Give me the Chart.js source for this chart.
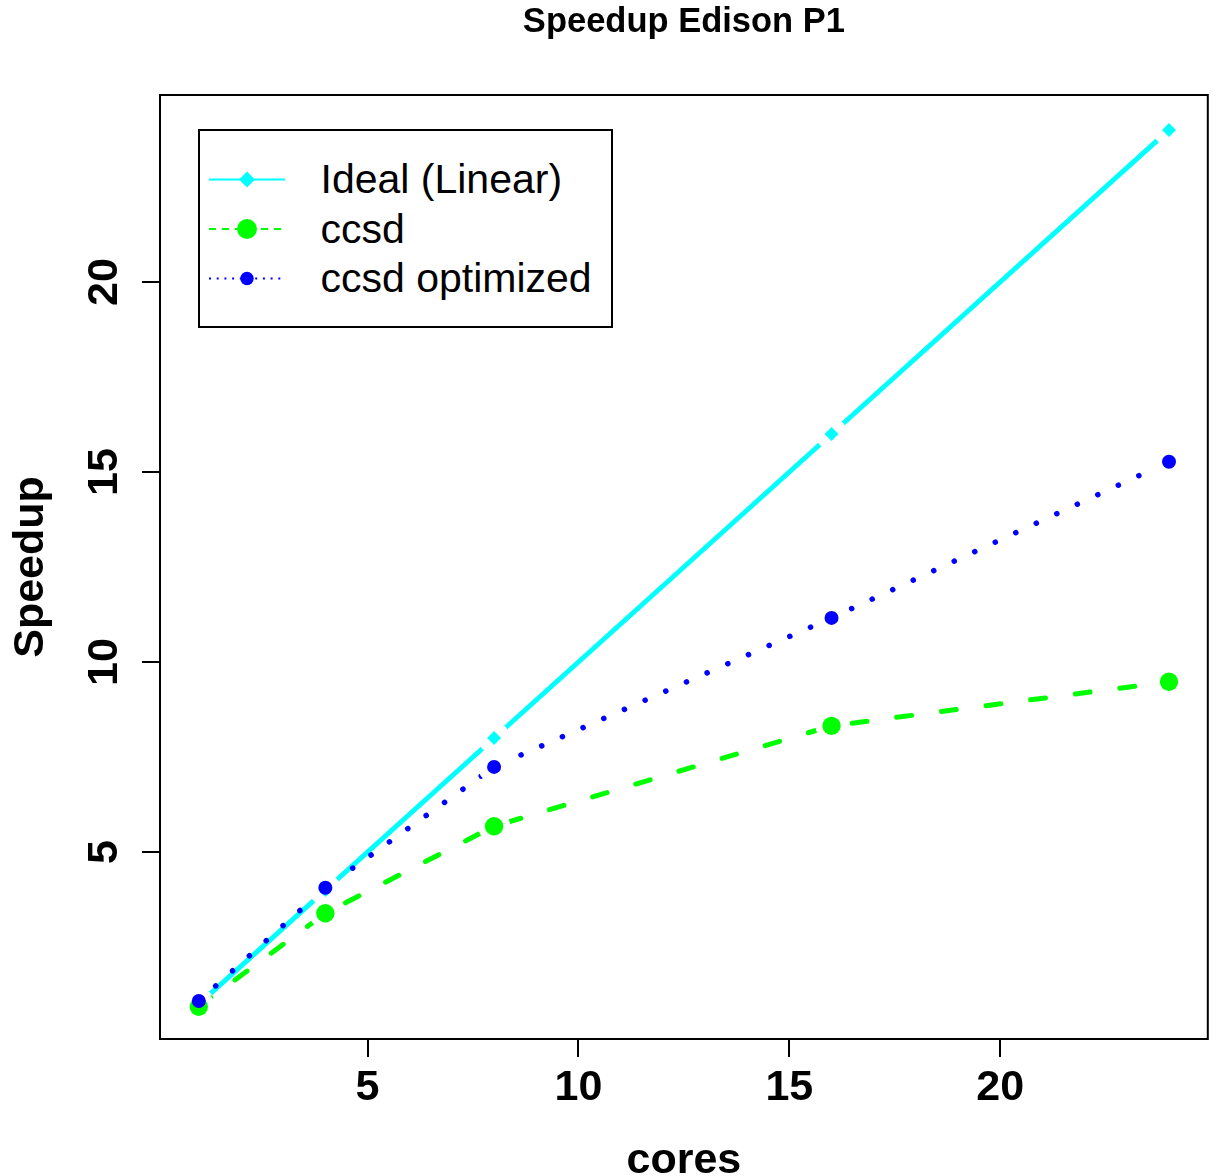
<!DOCTYPE html>
<html>
<head>
<meta charset="utf-8">
<script src="https://cdn.jsdelivr.net/npm/chart.js@4"></script>
<style>
html, body { margin: 0; padding: 0; background: #fff; }
#wrap { position: relative; width: 1217px; height: 1176px; overflow: hidden; }
#legend { position: absolute; left: 198px; top: 129px; width: 415px; height: 199px; border: 2px solid #000; box-sizing: border-box; background: #fff; font-family: 'Liberation Sans', Arial, sans-serif; font-size: 41px; color: #000; }
#legend svg { position: absolute; left: 0; top: 0; }
#legend .lab { position: absolute; left: 120.5px; height: 41px; line-height: 41px; white-space: nowrap; }
</style>
</head>
<body>
<div id="wrap">
  <canvas id="c" width="1217" height="1176"></canvas>
  <div id="legend">
    <svg width="110" height="195" viewBox="0 0 110 195">
      <line x1="9" y1="48.5" x2="85" y2="48.5" stroke="#00FFFF" stroke-width="2"/>
      <polygon points="47,40.5 55,48.5 47,56.5 39,48.5" fill="#00FFFF"/>
      <line x1="9" y1="98" x2="85" y2="98" stroke="#00FF00" stroke-width="2" stroke-dasharray="7 6"/>
      <circle cx="47" cy="98" r="10" fill="#00FF00"/>
      <line x1="9" y1="147.5" x2="85" y2="147.5" stroke="#0000FF" stroke-width="2" stroke-dasharray="2 5.7"/>
      <circle cx="47" cy="147.5" r="6.7" fill="#0000FF"/>
    </svg>
    <div class="lab" id="lab0" style="top:28.4px"></div>
    <div class="lab" id="lab1" style="top:77.9px"></div>
    <div class="lab" id="lab2" style="top:127.4px"></div>
  </div>
</div>
<script>
// ---- data ----
const chartTitle = 'Speedup Edison P1';
const xTitle = 'cores';
const yTitle = 'Speedup';
const seriesNames = ['Ideal (Linear)', 'ccsd', 'ccsd optimized'];
const cores = [1, 4, 8, 16, 24];
const idealSpeedup = [1, 4, 8, 16, 24];
const ccsdSpeedup = [0.93, 3.39, 5.68, 8.32, 9.48];
const ccsdOptSpeedup = [1.08, 4.06, 7.24, 11.16, 15.27];
const xTicks = [5, 10, 15, 20];
const yTicks = [5, 10, 15, 20];

seriesNames.forEach((n, i) => { document.getElementById('lab' + i).textContent = n; });

const FONT = "'Liberation Sans', Arial, sans-serif";
Chart.defaults.font.family = FONT;
Chart.defaults.color = '#000';

const pts = ys => cores.map((c, i) => ({ x: c, y: ys[i] }));

const gapsPlugin = {
  id: 'gaps',
  beforeDatasetDraw(chart, args) {
    const ds = chart.data.datasets[args.index];
    if (!ds.gapRadius) return;
    const ctx = chart.ctx;
    ctx.save();
    ctx.beginPath();
    ctx.rect(0, 0, chart.width, chart.height);
    args.meta.data.forEach(p => {
      ctx.moveTo(p.x + ds.gapRadius, p.y);
      ctx.arc(p.x, p.y, ds.gapRadius, 0, Math.PI * 2);
    });
    ctx.clip('evenodd');
  },
  afterDatasetDraw(chart, args) {
    const ds = chart.data.datasets[args.index];
    if (ds.gapRadius) chart.ctx.restore();
  }
};

const framePlugin = {
  id: 'frame',
  afterDatasetsDraw(chart) {
    const { ctx, chartArea: a } = chart;
    ctx.save();
    ctx.strokeStyle = '#000';
    ctx.lineWidth = 2;
    ctx.strokeRect(a.left, a.top, a.right - a.left, a.bottom - a.top);
    ctx.restore();
  }
};

const zeroPad = s => { s.paddingLeft = 0; s.paddingRight = 0; s.paddingTop = 0; s.paddingBottom = 0; };

const lineDs = (ys, color, width, dash, order) => ({
  data: pts(ys), showLine: true, borderColor: color, borderWidth: width,
  borderDash: dash, borderCapStyle: 'round', pointRadius: 0, pointHoverRadius: 0,
  gapRadius: 16, order: order
});
const pointDs = (ys, color, style, radius, order) => ({
  data: pts(ys), showLine: false, pointStyle: style, pointRadius: radius,
  pointBackgroundColor: color, pointBorderWidth: 0, pointBorderColor: color,
  pointHoverRadius: radius, order: order
});

new Chart(document.getElementById('c'), {
  type: 'scatter',
  data: {
    datasets: [
      lineDs(idealSpeedup, '#00FFFF', 5, [], 6),
      pointDs(idealSpeedup, '#00FFFF', 'rectRot', 7, 5),
      lineDs(ccsdSpeedup, '#00FF00', 5, [15, 30], 4),
      pointDs(ccsdSpeedup, '#00FF00', 'circle', 9.2, 3),
      lineDs(ccsdOptSpeedup, '#0000FF', 5.5, [0.1, 22.5], 2),
      pointDs(ccsdOptSpeedup, '#0000FF', 'circle', 7, 1)
    ]
  },
  plugins: [gapsPlugin, framePlugin],
  options: {
    responsive: false,
    animation: false,
    events: [],
    layout: { padding: { left: 0, right: 7, top: 0, bottom: 0 } },
    plugins: {
      legend: { display: false },
      tooltip: { enabled: false },
      title: {
        display: true, text: chartTitle, fullSize: false, color: '#000',
        font: { family: FONT, size: 34.5, weight: 'bold', lineHeight: 1.2 },
        padding: { top: 2, bottom: 51.6 }
      }
    },
    scales: {
      x: {
        type: 'linear', min: 0.08, max: 24.92, bounds: 'data',
        afterBuildTicks: s => { s.ticks = xTicks.map(v => ({ value: v })); },
        afterFit: s => { s.height = 137; zeroPad(s); },
        border: { display: false },
        grid: { drawOnChartArea: false, drawTicks: true, tickLength: 18, color: '#000', lineWidth: 2 },
        ticks: { color: '#000', font: { family: FONT, size: 43, weight: 'bold' }, padding: 5, maxRotation: 0, minRotation: 0, autoSkip: false },
        title: { display: true, text: xTitle, color: '#000', font: { family: FONT, size: 43, weight: 'bold' }, padding: { top: 0, bottom: -11 } }
      },
      y: {
        type: 'linear', min: 0.08, max: 24.92, bounds: 'data',
        afterBuildTicks: s => { s.ticks = yTicks.map(v => ({ value: v })); },
        afterFit: s => { s.width = 160; zeroPad(s); },
        border: { display: false },
        grid: { drawOnChartArea: false, drawTicks: true, tickLength: 18, color: '#000', lineWidth: 2 },
        ticks: { color: '#000', font: { family: FONT, size: 43, weight: 'bold' }, padding: 13, minRotation: 90, maxRotation: 90, crossAlign: 'center', autoSkip: false },
        title: { display: true, text: yTitle, color: '#000', font: { family: FONT, size: 43, weight: 'bold' }, padding: { top: 5, bottom: 0 } }
      }
    }
  }
});
</script>
</body>
</html>
